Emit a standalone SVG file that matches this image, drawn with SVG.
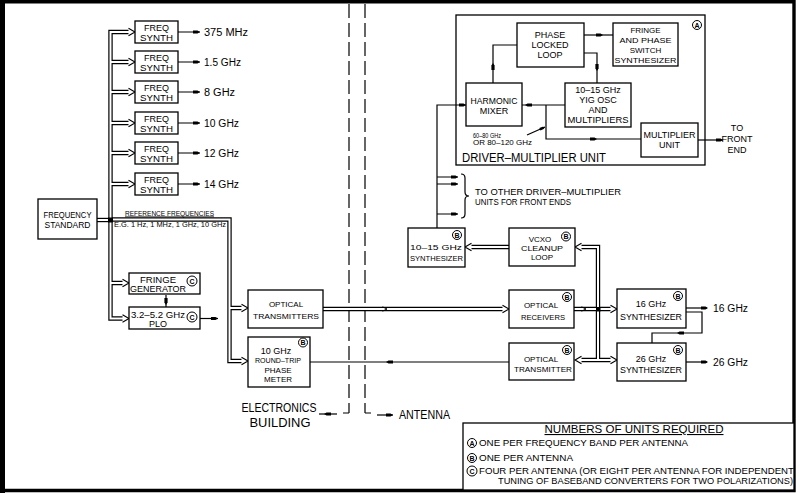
<svg xmlns="http://www.w3.org/2000/svg" xmlns:xlink="http://www.w3.org/1999/xlink" width="800" height="493" viewBox="0 0 800 493">
<defs>
<style>
.bx{fill:#fff;stroke:#000;stroke-width:1.3}
.frm{fill:none;stroke:#000;stroke-width:1.3}
.ln{fill:none;stroke:#000;stroke-width:1.2}
.bb{fill:none;stroke:#000;stroke-width:4.4}
.bw{fill:none;stroke:#fff;stroke-width:2}
.dash{fill:none;stroke:#000;stroke-width:1.2;stroke-dasharray:14 5}
text{font-family:"Liberation Sans",Arial,sans-serif;fill:#000}
.c{text-anchor:middle}
.s9{font-size:9px}
.s8{font-size:8px}
.s10{font-size:10px}
.big{font-size:12.5px}
.cir{fill:#fff;stroke:#000;stroke-width:1}
.cl{font-size:7px;text-anchor:middle;font-weight:bold}
</style>
<path id="ar" d="M-7,-1.6 L-2.5,-1.6 L0,0 L-2.5,1.6 L-7,1.6 Z" fill="#000"/>
<path id="ch" d="M-6.5,-3.8 L0,0 L-6.5,3.8" fill="#fff" stroke="#000" stroke-width="1.1"/>
<path id="chm" d="M-3.5,-2.2 L1,0 L-3.5,2.2" fill="none" stroke="#000" stroke-width="1"/>
<g id="cA"><circle class="cir" r="4.5"/><text class="cl" y="2.5">A</text></g>
<g id="cB"><circle class="cir" r="4.5"/><text class="cl" y="2.5">B</text></g>
<g id="cC"><circle class="cir" r="5"/><text class="cl" y="2.5">C</text></g>
</defs>

<rect x="0" y="0" width="800" height="493" fill="#fff"/>
<!-- frame -->
<path d="M2.5,1.7 H794 V490.5 H2.5 Z" fill="none" stroke="#000" stroke-width="3.4"/>
<rect x="0" y="0" width="5" height="493" fill="#000"/>

<!-- boundary dashed lines -->
<g id="boundary">
<path class="dash" d="M349,4 V413"/>
<path class="dash" d="M365,4 V413"/>
<path class="ln" d="M349,413 H343 M365,413 H371"/>
<path class="ln" d="M319,414 H337"/>
<use xlink:href="#ar" transform="translate(324,414) rotate(180)"/>
<path class="ln" d="M377,415 H393"/>
<use xlink:href="#ar" x="393" y="415"/>
<text class="big c" x="279" y="412" textLength="75" lengthAdjust="spacingAndGlyphs">ELECTRONICS</text>
<text class="big c" x="280" y="426.5" textLength="61" lengthAdjust="spacingAndGlyphs">BUILDING</text>
<text class="big" x="399" y="419" textLength="51" lengthAdjust="spacingAndGlyphs">ANTENNA</text>
</g>

<!-- container box (drawn first so inner lines stay visible) -->
<g id="driver-multiplier-unit"><rect class="frm" x="456" y="15" width="249" height="150"/>
<text x="462" y="162" font-size="12" textLength="144" lengthAdjust="spacingAndGlyphs">DRIVER–MULTIPLIER UNIT</text>
<use xlink:href="#cA" x="697" y="25"/></g>

<!-- connectors -->
<g id="connectors">
<g id="buses">
<g class="bb">
<path d="M97,220 H110.5"/>
<path d="M131,32 H110.5 V318.5 H125"/>
<path d="M110.5,62 H131 M110.5,92 H131 M110.5,123 H131 M110.5,153 H131 M110.5,184 H131 M110.5,283 H125"/>
<path d="M110.5,219.5 H229.5 V361 H244 M229.5,308 H244"/>
<path d="M323,309 H505"/>
<path d="M509,247 H469"/>
<path d="M579,247 H598 V360 M579,360 H613 M574,309 H613"/>
</g>
<g class="bw">
<path d="M97,220 H110.5"/>
<path d="M131,32 H110.5 V318.5 H125"/>
<path d="M110.5,62 H131 M110.5,92 H131 M110.5,123 H131 M110.5,153 H131 M110.5,184 H131 M110.5,283 H125"/>
<path d="M110.5,219.5 H229.5 V361 H244 M229.5,308 H244"/>
<path d="M323,309 H505"/>
<path d="M509,247 H469"/>
<path d="M579,247 H598 V360 M579,360 H613 M574,309 H613"/>
</g>
<use xlink:href="#ch" x="135" y="32"/>
<use xlink:href="#ch" x="135" y="62"/>
<use xlink:href="#ch" x="135" y="92"/>
<use xlink:href="#ch" x="135" y="123"/>
<use xlink:href="#ch" x="135" y="153"/>
<use xlink:href="#ch" x="135" y="184"/>
<use xlink:href="#ch" x="129" y="283"/>
<use xlink:href="#ch" x="129" y="318.5"/>
<use xlink:href="#ch" x="248" y="308"/>
<use xlink:href="#ch" x="248" y="361"/>
<use xlink:href="#ch" x="509" y="309"/>
<use xlink:href="#ch" x="617" y="309"/>
<use xlink:href="#ch" x="617" y="360"/>
<use xlink:href="#ch" transform="translate(465,247) rotate(180)"/>
<use xlink:href="#ch" transform="translate(575,247) rotate(180)"/>
<use xlink:href="#ch" transform="translate(575,360) rotate(180)"/>
<use xlink:href="#chm" x="386" y="309"/>
<use xlink:href="#chm" x="585" y="309"/>
<rect x="108" y="217.5" width="5" height="5" fill="#000"/>
<rect x="596" y="307" width="4.5" height="4.5" fill="#000"/>
</g>
<!-- single lines -->
<path class="ln" d="M178,32 H200 M178,62 H200 M178,92 H200 M178,123 H200 M178,153 H200 M178,184 H200"/>
<use xlink:href="#ar" x="200" y="32"/>
<use xlink:href="#ar" x="200" y="62"/>
<use xlink:href="#ar" x="200" y="92"/>
<use xlink:href="#ar" x="200" y="123"/>
<use xlink:href="#ar" x="200" y="153"/>
<use xlink:href="#ar" x="200" y="184"/>
<path class="ln" d="M166,295 V307"/>
<use xlink:href="#ar" transform="translate(166,305) rotate(90)"/>
<path class="ln" d="M200,318.5 H218"/>
<use xlink:href="#ar" x="218" y="318.5"/>
<path class="ln" d="M310,362 H509"/>
<use xlink:href="#ar" transform="translate(386,362) rotate(180)"/>
<path class="ln" d="M437,228 V105 H466"/>
<use xlink:href="#ar" x="466" y="105"/>
<path class="ln" d="M437,177 H458 M437,184 H458 M437,214 H458"/>
<use xlink:href="#ar" x="458" y="177"/>
<use xlink:href="#ar" x="458" y="184"/>
<use xlink:href="#ar" x="458" y="214"/>
<path class="ln" d="M461,174 Q465,174 465,178 V192 Q465,196 469,196 Q465,196 465,200 V214 Q465,218 461,218"/>
<path class="ln" d="M584,35 H613"/>
<use xlink:href="#ar" x="603" y="35"/>
<path class="ln" d="M493,83 V45 H517"/>
<use xlink:href="#ar" transform="translate(493,63) rotate(-90)"/>
<path class="ln" d="M584,53 H597 V83"/>
<use xlink:href="#ar" transform="translate(597,71) rotate(90)"/>
<path class="ln" d="M565,105 H522"/>
<use xlink:href="#ar" transform="translate(525,105) rotate(180)"/>
<path class="ln" d="M546,105 V139 H641"/>
<use xlink:href="#ar" x="597" y="139"/>
<path class="ln" d="M527,135 L545,127" stroke-width="1"/>
<use xlink:href="#ar" transform="translate(545,127) rotate(-24) scale(0.8)"/>
<path class="ln" d="M698,140 H723"/>
<use xlink:href="#ar" x="723" y="140"/>
<path class="ln" d="M686,308 H707"/>
<use xlink:href="#ar" x="708" y="308"/>
<path class="ln" d="M686,312 H702 V333 H652 V343"/>
<use xlink:href="#ar" transform="translate(677,333) rotate(180)"/>
<path class="ln" d="M686,362 H707"/>
<use xlink:href="#ar" x="708" y="362"/>
</g>

<!-- nodes -->
<g id="freq-standard"><rect class="bx" x="38" y="199" width="59" height="40"/>
<text class="s9 c" x="67.5" y="218" textLength="48" lengthAdjust="spacingAndGlyphs">FREQUENCY</text>
<text class="s9 c" x="67.5" y="228" textLength="46" lengthAdjust="spacingAndGlyphs">STANDARD</text></g>

<g id="synth-375"><rect class="bx" x="135" y="21" width="43" height="22"/><text class="s9 c" x="156.5" y="31">FREQ</text><text class="s9 c" x="156.5" y="40.5" textLength="33" lengthAdjust="spacingAndGlyphs">SYNTH</text></g>
<g id="synth-1.5"><rect class="bx" x="135" y="51" width="43" height="22"/><text class="s9 c" x="156.5" y="61">FREQ</text><text class="s9 c" x="156.5" y="70.5" textLength="33" lengthAdjust="spacingAndGlyphs">SYNTH</text></g>
<g id="synth-8"><rect class="bx" x="135" y="81" width="43" height="22"/><text class="s9 c" x="156.5" y="91">FREQ</text><text class="s9 c" x="156.5" y="100.5" textLength="33" lengthAdjust="spacingAndGlyphs">SYNTH</text></g>
<g id="synth-10"><rect class="bx" x="135" y="112" width="43" height="22"/><text class="s9 c" x="156.5" y="122">FREQ</text><text class="s9 c" x="156.5" y="131.5" textLength="33" lengthAdjust="spacingAndGlyphs">SYNTH</text></g>
<g id="synth-12"><rect class="bx" x="135" y="142" width="43" height="22"/><text class="s9 c" x="156.5" y="152">FREQ</text><text class="s9 c" x="156.5" y="161.5" textLength="33" lengthAdjust="spacingAndGlyphs">SYNTH</text></g>
<g id="synth-14"><rect class="bx" x="135" y="173" width="43" height="22"/><text class="s9 c" x="156.5" y="183">FREQ</text><text class="s9 c" x="156.5" y="192.5" textLength="33" lengthAdjust="spacingAndGlyphs">SYNTH</text></g>

<g id="out-labels">
<text class="s10" x="204" y="35.5" textLength="44" lengthAdjust="spacingAndGlyphs">375 MHz</text>
<text class="s10" x="204" y="65.5" textLength="37" lengthAdjust="spacingAndGlyphs">1.5 GHz</text>
<text class="s10" x="204" y="95.5" textLength="31" lengthAdjust="spacingAndGlyphs">8 GHz</text>
<text class="s10" x="204" y="126.5" textLength="35" lengthAdjust="spacingAndGlyphs">10 GHz</text>
<text class="s10" x="204" y="156.5" textLength="35" lengthAdjust="spacingAndGlyphs">12 GHz</text>
<text class="s10" x="204" y="187.5" textLength="35" lengthAdjust="spacingAndGlyphs">14 GHz</text>
<text x="125" y="215.5" font-size="6.5" textLength="89" lengthAdjust="spacingAndGlyphs" text-decoration="underline">REFERENCE FREQUENCIES</text>
<text x="114" y="227" font-size="7" textLength="112" lengthAdjust="spacingAndGlyphs">E.G. 1 Hz, 1 MHz, 1 GHz, 10 GHz</text>
</g>

<g id="fringe-gen"><rect class="bx" x="129" y="273" width="71" height="21"/>
<text class="s9 c" x="158" y="283" textLength="36" lengthAdjust="spacingAndGlyphs">FRINGE</text>
<text class="s9 c" x="158" y="292" textLength="56" lengthAdjust="spacingAndGlyphs">GENERATOR</text>
<use xlink:href="#cC" x="192" y="281"/></g>
<g id="plo"><rect class="bx" x="129" y="307" width="71" height="22"/>
<text class="s9" x="131" y="318" textLength="54" lengthAdjust="spacingAndGlyphs">3.2–5.2 GHz</text>
<text class="s9 c" x="158" y="327">PLO</text>
<use xlink:href="#cC" x="192" y="317"/></g>

<g id="opt-transmitters"><rect class="bx" x="248" y="290" width="75" height="38"/>
<text class="s8 c" x="286" y="307">OPTICAL</text>
<text class="s8 c" x="286" y="319" textLength="66" lengthAdjust="spacingAndGlyphs">TRANSMITTERS</text></g>

<g id="phase-meter"><rect class="bx" x="248" y="337" width="62" height="50"/>
<text class="s9 c" x="276" y="354">10 GHz</text>
<text class="s8 c" x="278" y="363" textLength="46" lengthAdjust="spacingAndGlyphs">ROUND–TRIP</text>
<text class="s8 c" x="278" y="372.5">PHASE</text>
<text class="s8 c" x="278" y="382">METER</text>
<use xlink:href="#cB" x="303" y="342.5"/></g>

<g id="opt-receivers"><rect class="bx" x="509" y="290" width="65" height="38"/>
<text class="s8 c" x="541" y="308">OPTICAL</text>
<text class="s8 c" x="543" y="320" textLength="44" lengthAdjust="spacingAndGlyphs">RECEIVERS</text>
<use xlink:href="#cB" x="567" y="297"/></g>

<g id="opt-transmitter"><rect class="bx" x="509" y="343" width="65" height="37"/>
<text class="s8 c" x="541" y="362">OPTICAL</text>
<text class="s8 c" x="543" y="372" textLength="58" lengthAdjust="spacingAndGlyphs">TRANSMITTER</text>
<use xlink:href="#cB" x="567" y="350"/></g>

<g id="synth-16"><rect class="bx" x="617" y="289" width="69" height="39"/>
<text class="s9 c" x="651" y="307">16 GHz</text>
<text class="s9 c" x="651" y="320" textLength="62" lengthAdjust="spacingAndGlyphs">SYNTHESIZER</text>
<use xlink:href="#cB" x="678" y="296"/></g>
<g id="synth-26"><rect class="bx" x="617" y="343" width="69" height="38"/>
<text class="s9 c" x="651" y="362">26 GHz</text>
<text class="s9 c" x="651" y="373" textLength="62" lengthAdjust="spacingAndGlyphs">SYNTHESIZER</text>
<use xlink:href="#cB" x="678" y="350"/></g>
<text class="s10" x="713" y="312" textLength="35" lengthAdjust="spacingAndGlyphs">16 GHz</text>
<text class="s10" x="713" y="366" textLength="35" lengthAdjust="spacingAndGlyphs">26 GHz</text>

<g id="vcxo"><rect class="bx" x="509" y="228" width="66" height="38"/>
<text class="s8 c" x="540" y="242">VCXO</text>
<text class="s8 c" x="542" y="251" textLength="42" lengthAdjust="spacingAndGlyphs">CLEANUP</text>
<text class="s8 c" x="542" y="259.5">LOOP</text>
<use xlink:href="#cB" x="566" y="236.5"/></g>

<g id="synth-10-15"><rect class="bx" x="408" y="228" width="57" height="39"/>
<text class="s8 c" x="436" y="250" textLength="52" lengthAdjust="spacingAndGlyphs">10–15 GHz</text>
<text class="s8 c" x="436.5" y="261" textLength="53" lengthAdjust="spacingAndGlyphs">SYNTHESIZER</text>
<use xlink:href="#cB" x="457" y="235"/></g>

<text class="s9" x="475" y="195" textLength="146" lengthAdjust="spacingAndGlyphs">TO OTHER DRIVER–MULTIPLIER</text>
<text class="s9" x="475" y="205" textLength="96" lengthAdjust="spacingAndGlyphs">UNITS FOR FRONT ENDS</text>

<g id="pll"><rect class="bx" x="517" y="23" width="67" height="44"/>
<text class="s9 c" x="550" y="38">PHASE</text>
<text class="s9 c" x="550" y="48">LOCKED</text>
<text class="s9 c" x="550" y="58">LOOP</text></g>

<g id="fringe-phase-synth"><rect class="bx" x="613" y="23" width="65" height="43"/>
<text class="s8 c" x="645.5" y="33">FRINGE</text>
<text class="s8 c" x="645.5" y="43" textLength="52" lengthAdjust="spacingAndGlyphs">AND PHASE</text>
<text class="s8 c" x="645.5" y="53">SWITCH</text>
<text class="s8 c" x="645.5" y="62.5" textLength="62" lengthAdjust="spacingAndGlyphs">SYNTHESIZER</text></g>

<g id="harmonic-mixer"><rect class="bx" x="466" y="83" width="56" height="43"/>
<text class="s9 c" x="494" y="104" textLength="47" lengthAdjust="spacingAndGlyphs">HARMONIC</text>
<text class="s9 c" x="494" y="114">MIXER</text></g>

<g id="yig"><rect class="bx" x="565" y="83" width="66" height="44"/>
<text class="s9 c" x="598" y="93">10–15 GHz</text>
<text class="s9 c" x="598" y="103">YIG OSC</text>
<text class="s9 c" x="598" y="113">AND</text>
<text class="s9 c" x="598" y="123" textLength="61" lengthAdjust="spacingAndGlyphs">MULTIPLIERS</text></g>

<g id="multiplier-unit"><rect class="bx" x="641" y="123" width="57" height="34"/>
<text class="s9 c" x="669.5" y="138" textLength="52" lengthAdjust="spacingAndGlyphs">MULTIPLIER</text>
<text class="s9 c" x="669.5" y="148">UNIT</text></g>

<text x="473" y="138" font-size="6.5" textLength="28" lengthAdjust="spacingAndGlyphs">60–80 GHz</text>
<text x="473" y="145" font-size="6.5" textLength="59" lengthAdjust="spacingAndGlyphs">OR 80–120 GHz</text>
<text class="s9 c" x="737" y="131">TO</text>
<text class="s9 c" x="737" y="142">FRONT</text>
<text class="s9 c" x="737" y="152.5">END</text>

<g id="legend"><rect class="bx" x="463" y="423" width="331" height="67"/>
<text x="634" y="433" font-size="11" class="c" textLength="179" lengthAdjust="spacingAndGlyphs" text-decoration="underline">NUMBERS OF UNITS REQUIRED</text>
<use xlink:href="#cA" x="472" y="443"/>
<text class="s9" x="479" y="446" textLength="209" lengthAdjust="spacingAndGlyphs">ONE PER FREQUENCY BAND PER ANTENNA</text>
<use xlink:href="#cB" x="472" y="458"/>
<text class="s9" x="479" y="461" textLength="94" lengthAdjust="spacingAndGlyphs">ONE PER ANTENNA</text>
<use xlink:href="#cC" x="472" y="471"/>
<text class="s9" x="479" y="474" textLength="315" lengthAdjust="spacingAndGlyphs">FOUR PER ANTENNA (OR EIGHT PER ANTENNA FOR INDEPENDENT</text>
<text class="s9" x="498" y="483.5" textLength="295" lengthAdjust="spacingAndGlyphs">TUNING OF BASEBAND CONVERTERS FOR TWO POLARIZATIONS)</text></g>
</svg>
